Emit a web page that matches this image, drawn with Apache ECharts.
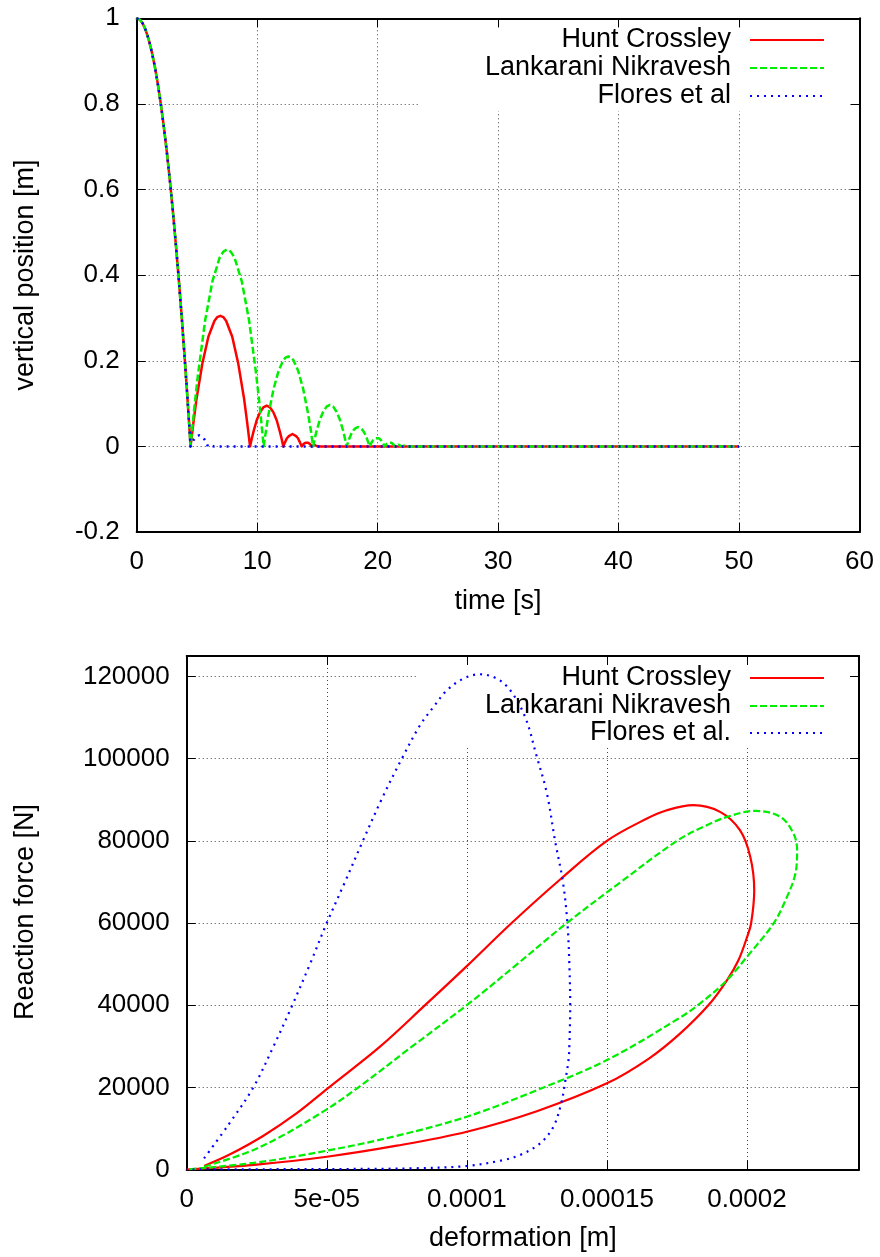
<!DOCTYPE html>
<html>
<head>
<meta charset="utf-8">
<script src="https://cdn.jsdelivr.net/npm/echarts@6/dist/echarts.min.js"></script>
<style>
html,body{margin:0;padding:0;background:#fff;}
#chart{width:880px;height:1257px;}
</style>
</head>
<body>
<div id="chart"></div>
<script>
// ---------- DATA: top chart (vertical position vs time) ----------
var seriesNamesTop = ['Hunt Crossley', 'Lankarani Nikravesh', 'Flores et al'];
var seriesNamesBottom = ['Hunt Crossley', 'Lankarani Nikravesh', 'Flores et al.'];

// common free-fall part
var timeDrop = [0, 0.25, 0.5, 0.75, 1, 1.25, 1.5, 1.75, 2, 2.25, 2.5, 2.75, 3, 3.25, 3.5, 3.75, 4, 4.15, 4.3, 4.4, 4.47];
var posDrop  = [1, 0.997, 0.988, 0.972, 0.95, 0.922, 0.888, 0.847, 0.8, 0.747, 0.688, 0.622, 0.55, 0.472, 0.388, 0.297, 0.2, 0.139, 0.075, 0.032, 0];

// Hunt Crossley bounces
var timeHC = [4.72, 4.96, 5.46, 5.95, 6.45, 6.69, 6.94, 7.19, 7.43, 7.93, 8.42, 8.92, 9.16, 9.41,
  9.55, 9.69, 9.96, 10.24, 10.51, 10.79, 11.07, 11.34, 11.62, 11.89, 12.03, 12.17,
  12.32, 12.47, 12.63, 12.78, 12.93, 13.08, 13.23, 13.39, 13.54, 13.69,
  13.86, 14.03, 14.115, 14.2, 14.37, 14.54, 14.78, 15.01, 50];
var posHC = [0.058, 0.110, 0.195, 0.256, 0.293, 0.302, 0.305, 0.302, 0.293, 0.256, 0.195, 0.110, 0.058, 0,
  0.018, 0.034, 0.061, 0.080, 0.091, 0.095, 0.091, 0.080, 0.061, 0.034, 0.018, 0,
  0.010, 0.019, 0.024, 0.028, 0.029, 0.028, 0.024, 0.019, 0.010, 0,
  0.0058, 0.0086, 0.009, 0.0086, 0.0058, 0, 0.0028, 0, 0];

// Lankarani Nikravesh bounces
var timeLN = [4.77, 5.08, 5.68, 6.29, 6.90, 7.20, 7.50, 7.80, 8.11, 8.72, 9.33, 9.93, 10.24, 10.54,
  10.75, 10.95, 11.36, 11.77, 12.18, 12.38, 12.59, 12.80, 13.0, 13.41, 13.82, 14.23, 14.44, 14.64,
  14.78, 14.92, 15.2, 15.48, 15.76, 16.04, 16.31, 16.59, 16.87, 17.15, 17.29, 17.43,
  17.62, 17.81, 18.0, 18.19, 18.38, 18.57, 18.76, 18.95, 19.14, 19.33,
  19.46, 19.58, 19.71, 19.83, 19.96, 20.09, 20.21, 20.34, 20.46, 20.59,
  20.76, 20.93, 21.015, 21.1, 21.27, 21.44, 21.58, 21.73, 21.87, 22.01,
  22.2, 22.39, 50];
var posLN = [0.087, 0.166, 0.294, 0.386, 0.442, 0.455, 0.46, 0.455, 0.442, 0.386, 0.294, 0.166, 0.087, 0,
  0.040, 0.076, 0.134, 0.176, 0.202, 0.208, 0.21, 0.208, 0.202, 0.176, 0.134, 0.076, 0.040, 0,
  0.018, 0.035, 0.062, 0.081, 0.093, 0.097, 0.093, 0.081, 0.062, 0.035, 0.018, 0,
  0.016, 0.029, 0.038, 0.043, 0.045, 0.043, 0.038, 0.029, 0.016, 0,
  0.0072, 0.0128, 0.0168, 0.0192, 0.02, 0.0192, 0.0168, 0.0128, 0.0072, 0,
  0.0058, 0.0086, 0.009, 0.0086, 0.0058, 0, 0.003, 0.004, 0.003, 0,
  0.0018, 0, 0];

// Flores et al bounces
var timeFL = [4.61, 4.76, 4.9, 5.05, 5.19, 5.33, 5.48, 5.62, 5.77, 5.91, 6.15, 6.4, 50];
var posFL  = [0.0094, 0.0166, 0.0218, 0.025, 0.026, 0.025, 0.0218, 0.0166, 0.0094, 0, 0.002, 0, 0];

// ---------- DATA: bottom chart (reaction force vs deformation) ----------
var defHC = [6.2e-6, 1.55e-5, 2.74e-5, 3.93e-5, 5.08e-5, 6.9e-5, 8.51e-5, 1.0e-4, 1.16e-4, 1.333e-4,
  1.5e-4, 1.643e-4, 1.714e-4, 1.809e-4, 1.904e-4, 1.975e-4, 2.012e-4, 2.026e-4, 2.015e-4, 2.0e-4,
  1.97e-4, 1.929e-4, 1.863e-4, 1.76e-4, 1.65e-4, 1.5e-4, 1.25e-4, 1.0e-4, 7.5e-5, 5.0e-5,
  2.5e-5, 0];
var forceHC = [850, 3700, 8220, 13700, 20000, 29900, 40000, 49500, 60000, 70600,
  80000, 85440, 87460, 88680, 87050, 82600, 76100, 68000, 60000, 56500,
  51000, 46100, 40020, 33000, 27000, 20970, 14200, 9200, 5800, 3110,
  1200, 0];

var defLN = [6.2e-6, 2.14e-5, 3.33e-5, 5.0e-5, 6.13e-5, 8.0e-5, 1.0e-4, 1.18e-4, 1.357e-4, 1.55e-4,
  1.75e-4, 1.85e-4, 1.929e-4, 2.03e-4, 2.119e-4, 2.166e-4, 2.179e-4, 2.173e-4, 2.143e-4, 2.095e-4,
  2.0e-4, 1.929e-4, 1.833e-4, 1.75e-4, 1.5e-4, 1.25e-4, 1.0e-4, 7.5e-5, 5.0e-5, 2.5e-5, 0];
var forceLN = [680, 4090, 7900, 14650, 20000, 29700, 40000, 50000, 60000, 70000,
  80000, 83600, 85840, 87300, 85840, 81800, 77740, 72070, 66370, 59900,
  51770, 46100, 40440, 36500, 26640, 19300, 12850, 8200, 4570, 1700, 0];

var defFL = [6.2e-6, 1.5e-5, 2.38e-5, 3.1e-5, 3.77e-5, 4.4e-5, 5.0e-5, 5.65e-5, 6.29e-5, 6.95e-5,
  7.68e-5, 8.33e-5, 8.81e-5, 9.29e-5, 9.88e-5, 1.047e-4, 1.107e-4, 1.155e-4, 1.208e-4, 1.25e-4,
  1.286e-4, 1.315e-4, 1.343e-4, 1.359e-4, 1.366e-4, 1.369e-4, 1.366e-4, 1.363e-4, 1.351e-4, 1.337e-4,
  1.309e-4, 1.262e-4, 1.19e-4, 1.131e-4, 1.0e-4, 8.1e-5, 5.7e-5, 2.1e-5, 0];
var forceFL = [2725, 11000, 20000, 30000, 40000, 50000, 60000, 70000, 80000, 90000,
  100000, 108150, 112600, 116660, 119500, 120560, 119500, 116660, 110170, 100430,
  91530, 80000, 70000, 60000, 50000, 40000, 30000, 26640, 21360, 16110,
  10410, 6370, 3530, 2310, 850, 290, 120, 50, 0];

// tick labels
var topXTicks = ['0', '10', '20', '30', '40', '50', '60'];
var topYTicks = ['-0.2', '0', '0.2', '0.4', '0.6', '0.8', '1'];
var botXTicks = ['0', '5e-05', '0.0001', '0.00015', '0.0002'];
var botYTicks = ['0', '20000', '40000', '60000', '80000', '100000', '120000'];

// axis titles
var topXTitle = 'time [s]', topYTitle = 'vertical position [m]';
var botXTitle = 'deformation [m]', botYTitle = 'Reaction force [N]';

// ---------- build ----------
function pairs(xs, ys) { var o = []; for (var i = 0; i < xs.length; i++) o.push([xs[i], ys[i]]); return o; }
var dropPts = pairs(timeDrop, posDrop);

var FONT = "'Liberation Sans', Arial, Helvetica, sans-serif";
var COLORS = ['#ff0000', '#00ee00', '#0000ff'];
var TYPES = ['solid', [7, 3], [2, 5]];

var chart = echarts.init(document.getElementById('chart'), null, {renderer: 'canvas'});

var G0 = {left: 136.7, top: 18.3, width: 722.8, height: 513.7};
var G1 = {left: 186.7, top: 656, width: 672.3, height: 513.5};

function mainAxisCommon(extra) {
  var a = {
    axisLine: {show: true, onZero: false, lineStyle: {color: '#000', width: 2}},
    axisTick: {show: true, inside: true, length: 9, lineStyle: {color: '#000', width: 1}},
    splitLine: {show: true, lineStyle: {color: '#444', type: [1, 3], width: 1}},
    axisLabel: {color: '#000', fontSize: 26, fontFamily: FONT, margin: 16}
  };
  for (var k in extra) a[k] = extra[k];
  return a;
}
function mirrorAxis(extra) {
  var a = {
    axisLine: {show: true, onZero: false, lineStyle: {color: '#000', width: 2}},
    axisTick: {show: true, inside: true, length: 9, lineStyle: {color: '#000', width: 1}},
    splitLine: {show: false},
    axisLabel: {show: false}
  };
  for (var k in extra) a[k] = extra[k];
  return a;
}
function tickLookup(labels, min, step) {
  return function (v) {
    var idx = Math.round((v - min) / step);
    if (Math.abs(min + idx * step - v) > step * 1e-3) return '';
    return labels[idx] !== undefined ? labels[idx] : '';
  };
}

var xTitleStyle = {color: '#000', fontSize: 27, fontFamily: FONT};

var option = {
  animation: false,
  backgroundColor: '#fff',
  grid: [
    {left: G0.left, top: G0.top, width: G0.width, height: G0.height, containLabel: false},
    {left: G1.left, top: G1.top, width: G1.width, height: G1.height, containLabel: false}
  ],
  xAxis: [
    mainAxisCommon({type: 'value', gridIndex: 0, min: 0, max: 60, interval: 10, position: 'bottom',
      name: topXTitle, nameLocation: 'middle', nameGap: 56, nameTextStyle: xTitleStyle,
      axisLabel: {color: '#000', fontSize: 26, fontFamily: FONT, margin: 17, formatter: tickLookup(topXTicks, 0, 10)}}),
    mirrorAxis({type: 'value', gridIndex: 0, min: 0, max: 60, interval: 10, position: 'top'}),
    mainAxisCommon({type: 'value', gridIndex: 1, min: 0, max: 0.00024, interval: 0.00005, position: 'bottom',
      name: botXTitle, nameLocation: 'middle', nameGap: 56, nameTextStyle: xTitleStyle,
      axisLabel: {color: '#000', fontSize: 26, fontFamily: FONT, margin: 17, formatter: tickLookup(botXTicks, 0, 0.00005)}}),
    mirrorAxis({type: 'value', gridIndex: 1, min: 0, max: 0.00024, interval: 0.00005, position: 'top'})
  ],
  yAxis: [
    mainAxisCommon({type: 'value', gridIndex: 0, min: -0.2, max: 1, interval: 0.2, position: 'left',
      axisLabel: {color: '#000', fontSize: 26, fontFamily: FONT, margin: 17, formatter: tickLookup(topYTicks, -0.2, 0.2)}}),
    mirrorAxis({type: 'value', gridIndex: 0, min: -0.2, max: 1, interval: 0.2, position: 'right'}),
    mainAxisCommon({type: 'value', gridIndex: 1, min: 0, max: 125000, interval: 20000, position: 'left',
      axisLabel: {color: '#000', fontSize: 26, fontFamily: FONT, margin: 17, formatter: tickLookup(botYTicks, 0, 20000)}}),
    mirrorAxis({type: 'value', gridIndex: 1, min: 0, max: 125000, interval: 20000, position: 'right'})
  ],
  legend: [],
  graphic: [
    {type: 'rect', z: 1, shape: {x: 418, y: 28, width: 432, height: 83}, style: {fill: '#fff'}, silent: true},
    {type: 'rect', z: 1, shape: {x: 418, y: 666, width: 432, height: 82}, style: {fill: '#fff'}, silent: true},
    {type: 'text', z: 5, x: 26, y: 275, rotation: Math.PI / 2,
      style: {text: topYTitle, font: '27px ' + FONT, fill: '#000', textAlign: 'center', textVerticalAlign: 'middle'}},
    {type: 'text', z: 5, x: 26, y: 912, rotation: Math.PI / 2,
      style: {text: botYTitle, font: '27px ' + FONT, fill: '#000', textAlign: 'center', textVerticalAlign: 'middle'}}
  ],
  series: []
};

var topData = [
  dropPts.concat(pairs(timeHC, posHC)),
  dropPts.concat(pairs(timeLN, posLN)),
  dropPts.concat(pairs(timeFL, posFL))
];
var botData = [pairs(defHC, forceHC), pairs(defLN, forceLN), pairs(defFL, forceFL)];

for (var i = 0; i < 3; i++) {
  option.series.push({
    name: seriesNamesTop[i], type: 'line', xAxisIndex: 0, yAxisIndex: 0,
    data: topData[i], showSymbol: false, symbol: 'none', z: 2 + i,
    lineStyle: {color: COLORS[i], width: 2.5, type: TYPES[i], join: 'round'}, itemStyle: {color: COLORS[i]}
  });
}
for (var j = 0; j < 3; j++) {
  option.series.push({
    name: seriesNamesBottom[j], type: 'line', xAxisIndex: 2, yAxisIndex: 2,
    data: botData[j], showSymbol: false, symbol: 'none', smooth: 0.35, z: 2 + j,
    lineStyle: {color: COLORS[j], width: 2.2, type: TYPES[j], join: 'round'}, itemStyle: {color: COLORS[j]}
  });
}

// legends, one per row, right-aligned text with line sample at the right
var legendRowsTop = [26, 54, 82];
var legendRowsBot = [664, 692, 719];
function addLegend(name, top) {
  option.legend.push({
    data: [name], right: 55, top: top, orient: 'horizontal', align: 'right', padding: 0,
    itemWidth: 74, itemHeight: 14, selectedMode: false, z: 6,
    itemStyle: {opacity: 0},
    textStyle: {color: '#000', fontSize: 27, fontFamily: FONT, lineHeight: 28, padding: [0, 14, 0, 0]}
  });
}
for (var a = 0; a < 3; a++) addLegend(seriesNamesTop[a], legendRowsTop[a]);
for (var b = 0; b < 3; b++) addLegend(seriesNamesBottom[b], legendRowsBot[b]);

chart.setOption(option);
</script>
</body>
</html>
